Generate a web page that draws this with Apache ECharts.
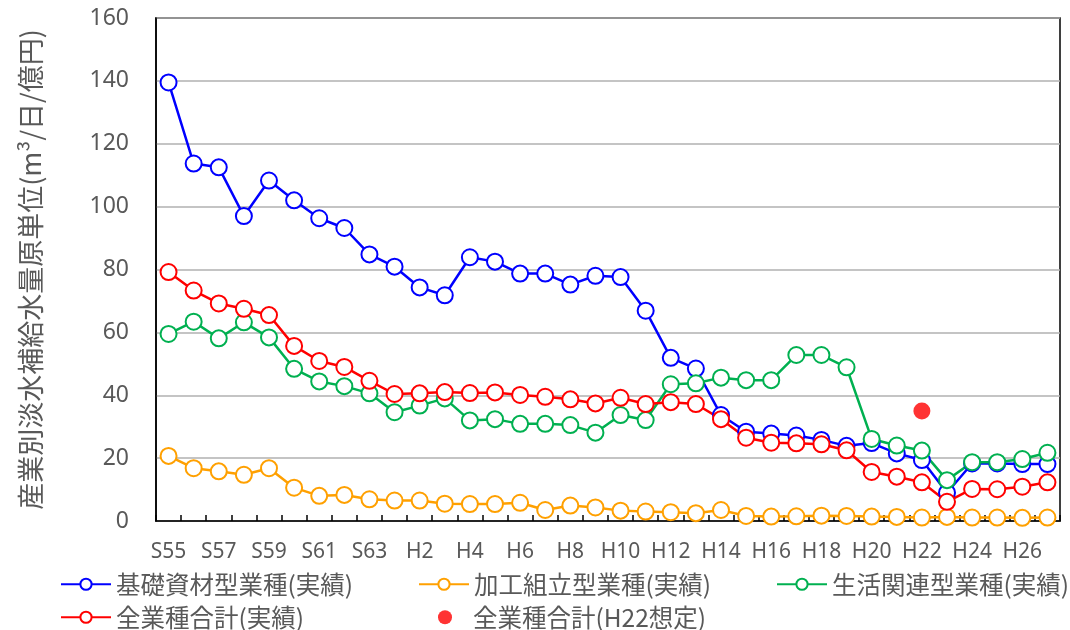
<!DOCTYPE html>
<html>
<head>
<meta charset="utf-8">
<script src="https://cdn.jsdelivr.net/npm/echarts@6/dist/echarts.min.js"></script>
<style>
  html, body { margin: 0; padding: 0; background: #fff; }
  #chart { width: 1070px; height: 630px; }
</style>
</head>
<body>
<div id="chart"></div>
<script>
// Fiscal years: Showa 55 – Showa 63, then Heisei 1 – Heisei 27
const years = ['S55','S56','S57','S58','S59','S60','S61','S62','S63',
  'H1','H2','H3','H4','H5','H6','H7','H8','H9','H10','H11','H12','H13','H14','H15',
  'H16','H17','H18','H19','H20','H21','H22','H23','H24','H25','H26','H27'];

// 基礎資材型業種(実績)
const basicMaterials = [139.5,113.7,112.5,97.0,108.3,102.0,96.3,93.2,84.8,
  80.9,74.3,71.8,83.9,82.5,78.7,78.7,75.2,78.0,77.6,66.9,51.9,48.5,33.7,28.4,
  27.8,27.2,25.8,23.9,24.8,21.5,19.4,9.0,18.3,18.3,18.1,18.1];

// 加工組立型業種(実績)
const assembly = [20.7,16.8,15.8,14.7,16.8,10.6,8.0,8.3,6.9,
  6.5,6.5,5.5,5.4,5.4,5.8,3.5,4.9,4.3,3.3,3.0,2.8,2.5,3.5,1.6,
  1.4,1.5,1.7,1.6,1.4,1.3,1.1,1.3,1.1,1.1,1.0,1.1];

// 生活関連型業種(実績)
const consumer = [59.5,63.4,58.1,63.2,58.4,48.4,44.4,42.9,40.6,
  34.6,36.7,39.0,32.0,32.4,30.9,30.9,30.5,28.1,33.7,32.1,43.5,43.8,45.6,44.8,
  44.8,52.8,52.8,48.9,26.1,24.0,22.4,13.0,18.7,18.7,19.7,21.7];

// 全業種合計(実績)
const allIndustries = [79.2,73.3,69.2,67.5,65.5,55.7,50.9,49.0,44.6,
  40.4,40.6,41.0,40.7,40.9,40.1,39.5,38.7,37.4,39.2,37.2,37.8,37.2,32.4,26.5,
  24.9,24.7,24.4,22.5,15.6,14.1,12.3,6.1,10.2,10.1,10.9,12.3];

// 全業種合計(H22想定)
const estimateYear = 'H22';
const estimateValue = 35.0;

const yTicks = { min: 0, max: 160, step: 20 };

const names = ['基礎資材型業種(実績)','加工組立型業種(実績)','生活関連型業種(実績)','全業種合計(実績)','全業種合計(H22想定)'];
const colors = ['#0000ff','#ffa000','#00b050','#ff0000','#ff0000'];

const cjk = "'Noto Sans CJK JP', 'Noto Sans', sans-serif";
const textGray = '#595959';

function lineSeries(name, data, color) {
  return {
    name: name,
    type: 'line',
    data: data,
    symbol: 'circle',
    symbolSize: 16,
    lineStyle: { color: color, width: 2.5 },
    itemStyle: { color: '#ffffff', borderColor: color, borderWidth: 2 },
    emphasis: { disabled: true },
    animation: false
  };
}

const estimateData = years.map(y => y === estimateYear ? estimateValue : null);

function legendAt(name, left, top, width, height, textPad) {
  return {
    data: [name],
    left: left,
    top: top,
    padding: 0,
    itemWidth: width,
    itemHeight: height,
    itemGap: 0,
    textStyle: { fontFamily: cjk, fontSize: 24.5, color: textGray, padding: [0, 0, 0, textPad] },
    selectedMode: false
  };
}

const chart = echarts.init(document.getElementById('chart'), null, { renderer: 'canvas' });
chart.setOption({
  backgroundColor: '#ffffff',
  animation: false,
  grid: {
    left: 156, top: 18, width: 904, height: 503,
    show: true, borderColor: '#000000', borderWidth: 1.5, backgroundColor: 'transparent'
  },
  legend: [
    legendAt(names[0], 60, 572, 50, 14, 0),
    legendAt(names[1], 418, 572, 50, 14, 0),
    legendAt(names[2], 776, 572, 50, 14, 0),
    legendAt(names[3], 60, 605, 50, 14, 0),
    legendAt(names[4], 438, 605, 14, 14, 16)
  ],
  xAxis: {
    type: 'category',
    data: years,
    boundaryGap: true,
    axisLine: { lineStyle: { color: '#000000', width: 1.5 } },
    axisTick: { show: true, inside: true, length: 6, interval: 0, lineStyle: { color: '#000000', width: 1.5 } },
    axisLabel: {
      interval: 1, margin: 21,
      fontFamily: "'Noto Sans', sans-serif", fontSize: 21, color: textGray
    },
    splitLine: { show: false }
  },
  yAxis: {
    type: 'value',
    min: yTicks.min, max: yTicks.max, interval: yTicks.step,
    name: '産業別淡水補給水量原単位(m³/日/億円)',
    nameLocation: 'middle',
    nameGap: 112,
    nameRotate: 90,
    nameTextStyle: { fontFamily: cjk, fontSize: 27, color: textGray },
    axisLine: { show: true, lineStyle: { color: '#000000', width: 1.5 } },
    axisTick: { show: false },
    axisLabel: { margin: 27, fontFamily: "'Noto Sans', sans-serif", fontSize: 23, color: textGray },
    splitLine: { show: true, lineStyle: { color: '#b0b0b0', width: 1.5 } }
  },
  series: [
    lineSeries(names[0], basicMaterials, colors[0]),
    lineSeries(names[1], assembly, colors[1]),
    lineSeries(names[2], consumer, colors[2]),
    lineSeries(names[3], allIndustries, colors[3]),
    {
      name: names[4],
      type: 'scatter',
      data: estimateData,
      symbol: 'circle',
      symbolSize: 17,
      itemStyle: { color: colors[4] },
      emphasis: { disabled: true },
      animation: false
    }
  ]
});
</script>
</body>
</html>
